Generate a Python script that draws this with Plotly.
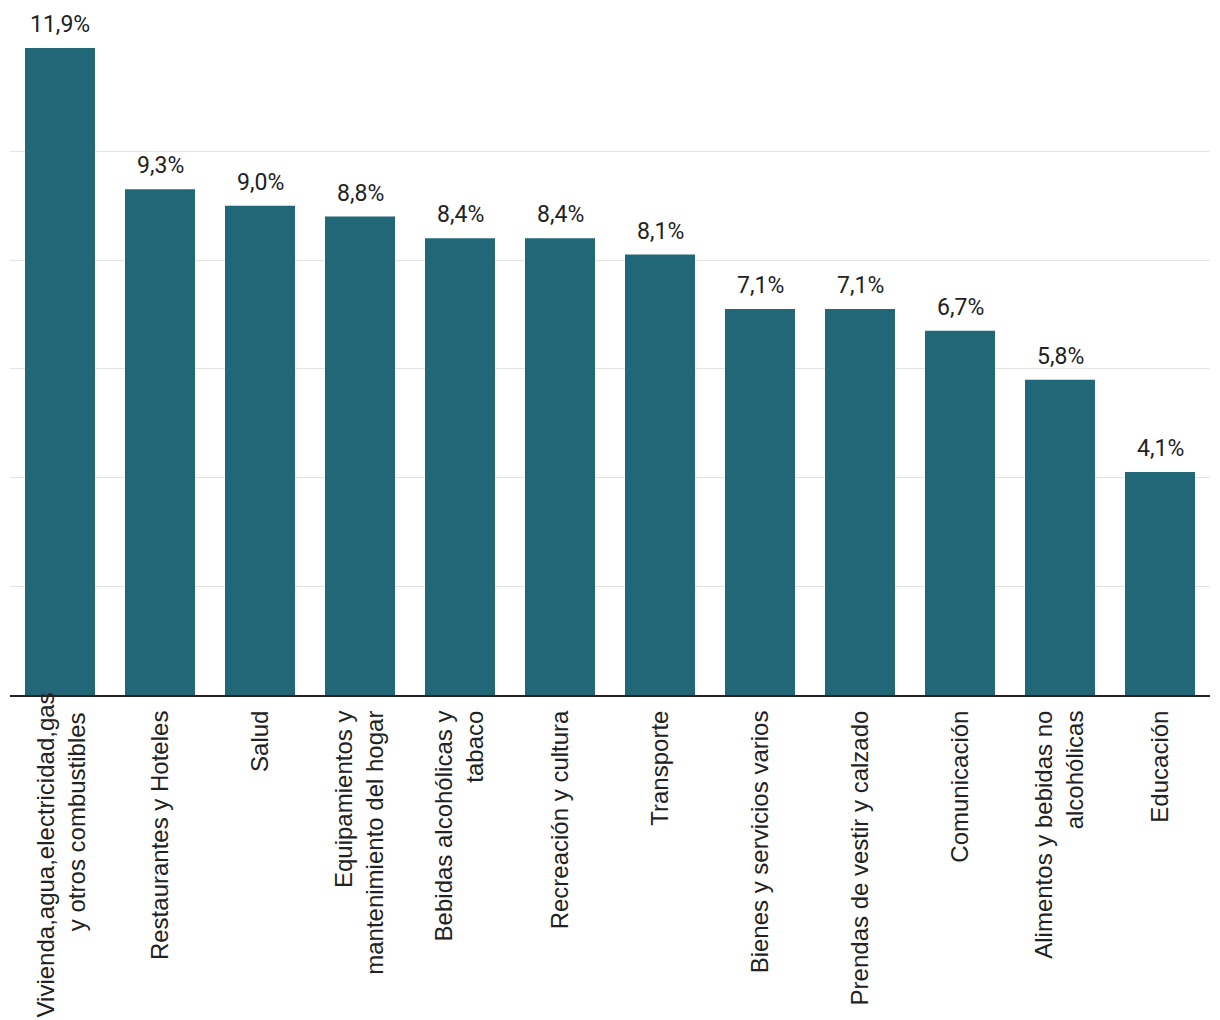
import plotly.graph_objects as go

categories = [
    "Vivienda,agua,electricidad,gas<br>y otros combustibles",
    "Restaurantes y Hoteles",
    "Salud",
    "Equipamientos y<br>mantenimiento del hogar",
    "Bebidas alcohólicas y<br>tabaco",
    "Recreación y cultura",
    "Transporte",
    "Bienes y servicios varios",
    "Prendas de vestir y calzado",
    "Comunicación",
    "Alimentos y bebidas no<br>alcohólicas",
    "Educación",
]
values = [11.9, 9.3, 9.0, 8.8, 8.4, 8.4, 8.1, 7.1, 7.1, 6.7, 5.8, 4.1]
value_labels = [f"{v:.1f}%".replace(".", ",") for v in values]

BAR_COLOR = "#216777"
VALUE_FONT = "Roboto"
TICK_FONT = "Liberation Sans, Arial"
TEXT_COLOR = "#222222"

fig = go.Figure(go.Bar(
    x=categories, y=values, marker_color=BAR_COLOR, marker_line_width=0,
    hoverinfo="skip",
))

for c, v, t in zip(categories, values, value_labels):
    fig.add_annotation(x=c, y=v, text=t, showarrow=False, yanchor="bottom",
                       yshift=8, font=dict(family=VALUE_FONT, size=23, color=TEXT_COLOR))

# first category label drawn as annotation so its first line can sit higher
first_lines = categories[0].split("<br>")
fig.add_annotation(
    x=categories[0], y=0, yref="y",
    text=first_lines[0] + "<br>" + first_lines[1] + "\u00a0\u00a0\u00a0",
    textangle=-90, align="right", showarrow=False,
    xanchor="center", yanchor="top", yshift=4,
    font=dict(family=TICK_FONT, size=24, color=TEXT_COLOR),
)

fig.update_layout(
    width=1212, height=1012,
    margin=dict(l=2, r=10, t=40, b=325, autoexpand=False),
    paper_bgcolor="white", plot_bgcolor="white",
    bargap=0.3,
    showlegend=False,
    font=dict(family=VALUE_FONT, size=23, color=TEXT_COLOR),
)
fig.update_xaxes(
    tickangle=-90, showline=True, linecolor=TEXT_COLOR, linewidth=2,
    ticks="", tickfont=dict(family=TICK_FONT, size=24, color=TEXT_COLOR),
    tickmode="array", tickvals=categories, ticktext=[""] + categories[1:],
    showgrid=False, automargin=False, ticklabelstandoff=4,
)
fig.update_yaxes(
    range=[0, 11.9], dtick=2, showticklabels=False, gridcolor="#e3e3e3",
    gridwidth=1, zeroline=False, showline=False, automargin=False,
)

fig.write_html("out.html")
